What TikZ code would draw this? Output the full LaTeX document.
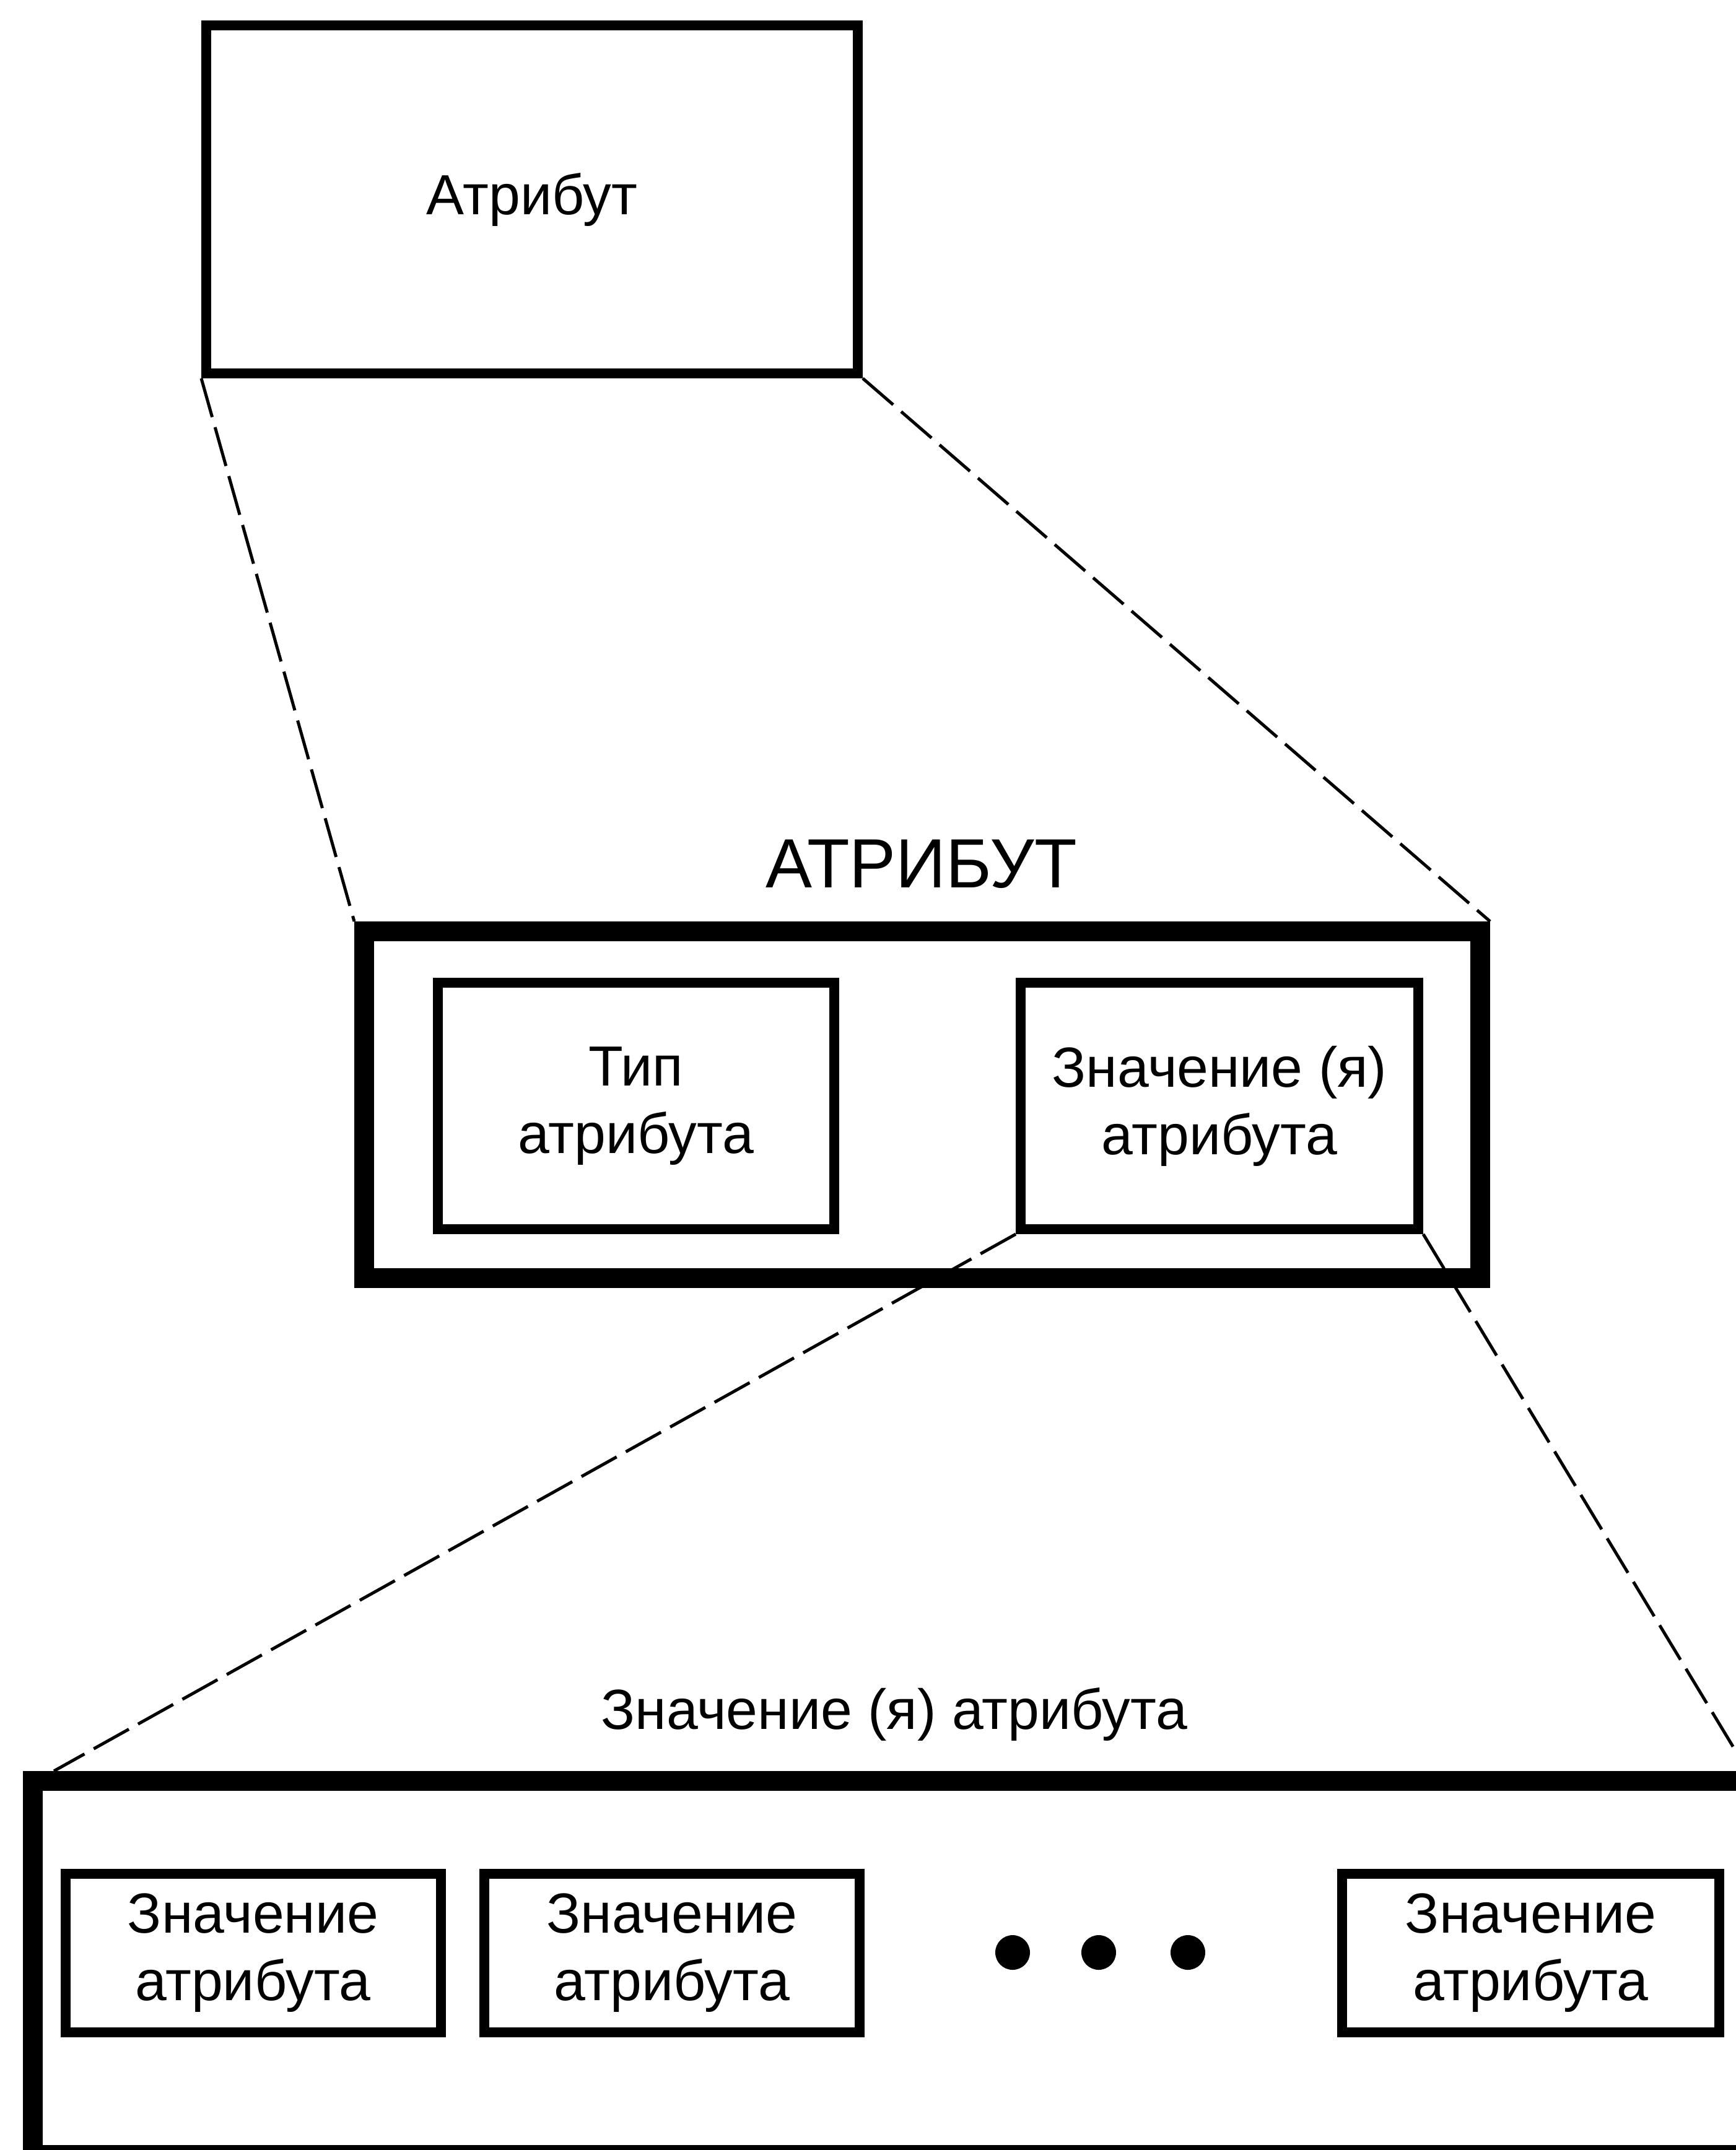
\documentclass[tikz,border=0pt]{standalone}
\usepackage{fontspec}
\setmainfont{Liberation Sans}

\begin{document}
\begin{tikzpicture}[font=\fontsize{26}{31}\selectfont]
\tikzset{
  thin_box/.style={draw=black, line width=0.160000cm, align=center, inner sep=0pt},
  thick_box/.style={draw=black, line width=0.320000cm, inner sep=0pt},
  zoom_line/.style={line width=0.050000cm, dash pattern=on 0.650000cm off 0.170000cm},
  more_dot/.style={circle, fill=black, inner sep=0pt, minimum size=0.560000cm}
}
\useasboundingbox (0,0) rectangle (28.030000,-34.720000);
\clip (0,0) rectangle (28.030000,-34.720000);
% top box
\node[thin_box, minimum width=10.520000cm, minimum height=5.620000cm] (attr) at (8.590000,-3.220000) {Атрибут};
% attribute = type + value(s)
\node[font=\fontsize{32}{38}\selectfont] (attr_title) at (14.880000,-13.950000) {АТРИБУТ};
\node[thick_box, minimum width=18.020000cm, minimum height=5.600000cm] (attr_box) at (14.890000,-17.840000) {};
\node[thin_box, minimum width=6.400000cm, minimum height=3.980000cm] (attr_type) at (10.270000,-17.860000) {Тип\\атрибута};
\node[thin_box, minimum width=6.420000cm, minimum height=3.980000cm] (attr_val) at (19.690000,-17.860000) {Значение (я)\\атрибута};
% value(s) in detail
\node[] (val_title) at (14.440000,-27.680000) {Значение (я) атрибута};
\node[thick_box, minimum width=27.690000cm, minimum height=6.040000cm] (val_box) at (14.375000,-31.780000) {};
\node[thin_box, minimum width=6.060000cm, minimum height=2.560000cm] (val_a) at (4.085000,-31.535000) {Значение\\атрибута};
\node[thin_box, minimum width=6.060000cm, minimum height=2.560000cm] (val_b) at (10.850000,-31.535000) {Значение\\атрибута};
\node[thin_box, minimum width=6.090000cm, minimum height=2.560000cm] (val_n) at (24.715000,-31.535000) {Значение\\атрибута};
\node[more_dot] (dot_a) at (16.350000,-31.530000) {};
\node[more_dot] (dot_b) at (17.740000,-31.530000) {};
\node[more_dot] (dot_c) at (19.180000,-31.530000) {};
% zoom lines
\coordinate (val_left) at ([xshift=0.500000cm]val_box.north west);
\coordinate (val_right) at ([xshift=-0.160000cm]val_box.north east);
\draw[zoom_line] (attr.south west) -- (attr_box.north west);
\draw[zoom_line] (attr.south east) -- (attr_box.north east);
\draw[zoom_line] (attr_val.south west) -- (val_left);
\draw[zoom_line] (attr_val.south east) -- (val_right);
\end{tikzpicture}
\end{document}
